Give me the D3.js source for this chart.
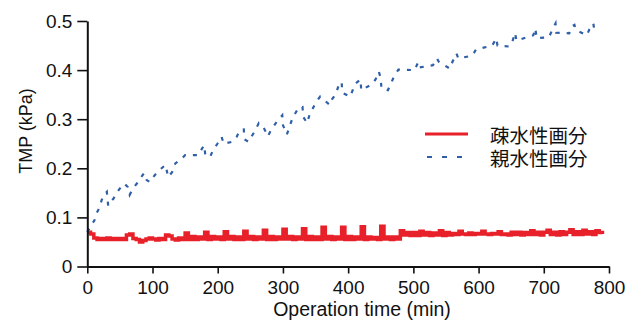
<!DOCTYPE html>
<html>
<head>
<meta charset="utf-8">
<script src="https://cdn.jsdelivr.net/npm/d3@7"></script>
<style>
  html, body { margin: 0; padding: 0; background: #fff; }
  svg { display: block; }
  text { font-family: "Liberation Sans", Arial, Helvetica, sans-serif; fill: #111; }
  .jp { font-family: "Noto Sans CJK JP", "Noto Sans CJK SC", sans-serif; }
</style>
</head>
<body>
<div id="chart"></div>
<script>
// tick values and labels
var xTicks = [0, 100, 200, 300, 400, 500, 600, 700, 800];
var xTickLabels = ["0", "100", "200", "300", "400", "500", "600", "700", "800"];
var yTicks = [0, 0.1, 0.2, 0.3, 0.4, 0.5];
var yTickLabels = ["0", "0.1", "0.2", "0.3", "0.4", "0.5"];

var seriesNames = ["疎水性画分", "親水性画分"];

// hydrophobic fraction, sampled every 5 min from 0 to 790
var redStep = 5;
var redTMP = [
  0.070, 0.066, 0.058, 0.055, 0.057, 0.055, 0.058, 0.055, 0.057, 0.055,
  0.057, 0.055, 0.064, 0.066, 0.057, 0.055, 0.050, 0.053, 0.056, 0.058,
  0.056, 0.054, 0.057, 0.055, 0.064, 0.062, 0.056, 0.054, 0.058, 0.055,
  0.068, 0.055, 0.061, 0.055, 0.060, 0.056, 0.070, 0.055, 0.061, 0.056,
  0.060, 0.055, 0.071, 0.056, 0.061, 0.055, 0.060, 0.055, 0.072, 0.056,
  0.061, 0.055, 0.060, 0.056, 0.074, 0.055, 0.061, 0.055, 0.060, 0.056,
  0.076, 0.056, 0.061, 0.055, 0.060, 0.056, 0.077, 0.055, 0.061, 0.055,
  0.060, 0.055, 0.080, 0.056, 0.061, 0.055, 0.060, 0.056, 0.080, 0.055,
  0.061, 0.055, 0.060, 0.056, 0.081, 0.055, 0.060, 0.056, 0.059, 0.055,
  0.082, 0.056, 0.060, 0.055, 0.060, 0.056, 0.073, 0.064, 0.069, 0.063,
  0.069, 0.063, 0.072, 0.064, 0.069, 0.063, 0.068, 0.064, 0.073, 0.063,
  0.069, 0.064, 0.067, 0.065, 0.072, 0.066, 0.065, 0.068, 0.065, 0.067,
  0.066, 0.072, 0.066, 0.065, 0.067, 0.066, 0.071, 0.065, 0.066, 0.064,
  0.070, 0.065, 0.070, 0.064, 0.069, 0.065, 0.073, 0.065, 0.070, 0.064,
  0.070, 0.074, 0.065, 0.070, 0.064, 0.071, 0.065, 0.070, 0.075, 0.065,
  0.071, 0.065, 0.074, 0.066, 0.071, 0.065, 0.073, 0.069, 0.066
];

// hydrophilic fraction
var blueTime = [
  0, 6, 11, 14, 18, 22, 25, 30, 32, 35, 40, 45, 50, 57, 62, 65, 70, 76, 81, 87,
  91, 96, 101, 106, 113, 120, 124, 130, 135, 145, 150, 170, 179, 181, 188, 193, 199, 206, 209, 222,
  229, 234, 240, 241, 247, 252, 257, 263, 270, 277, 281, 289, 299, 300, 306, 310, 314, 319, 324, 330,
  331, 337, 341, 345, 350, 357, 372, 375, 381, 385, 390, 391, 403, 407, 410, 419, 420, 436, 442, 447,
  450, 451, 461, 466, 470, 477, 502, 507, 508, 530, 536, 539, 556, 560, 566, 569, 589, 593, 596, 621,
  627, 629, 647, 652, 656, 658, 684, 687, 689, 708, 713, 718, 719, 739, 744, 747, 749, 766, 770, 776,
  778
];
var blueTMP = [
  0.070, 0.084, 0.094, 0.108, 0.118, 0.135, 0.145, 0.152, 0.124, 0.131, 0.138, 0.150, 0.159, 0.169, 0.162, 0.146, 0.159, 0.169, 0.179, 0.190,
  0.176, 0.172, 0.182, 0.190, 0.199, 0.207, 0.182, 0.192, 0.210, 0.220, 0.227, 0.227, 0.247, 0.227, 0.223, 0.237, 0.249, 0.264, 0.250, 0.254,
  0.264, 0.278, 0.279, 0.259, 0.254, 0.265, 0.276, 0.292, 0.284, 0.265, 0.276, 0.292, 0.308, 0.288, 0.269, 0.284, 0.300, 0.312, 0.324, 0.325,
  0.305, 0.292, 0.310, 0.320, 0.333, 0.346, 0.329, 0.340, 0.351, 0.367, 0.376, 0.354, 0.346, 0.359, 0.371, 0.381, 0.359, 0.371, 0.381, 0.397,
  0.383, 0.363, 0.359, 0.374, 0.386, 0.401, 0.400, 0.415, 0.405, 0.410, 0.424, 0.417, 0.403, 0.417, 0.434, 0.424, 0.429, 0.435, 0.442, 0.450,
  0.465, 0.450, 0.448, 0.459, 0.476, 0.460, 0.471, 0.485, 0.465, 0.467, 0.482, 0.495, 0.476, 0.475, 0.490, 0.492, 0.482, 0.471, 0.483, 0.495,
  0.476
];

var redColor = "#e8202a";
var blueColor = "#2f5fa8";

var width = 644, height = 323;
var margin = {top: 21, right: 35, bottom: 56.5, left: 87.3};

var svg = d3.select("#chart").append("svg")
  .attr("width", width)
  .attr("height", height);

var x = d3.scaleLinear().domain([0, 800]).range([margin.left, width - margin.right]);
var y = d3.scaleLinear().domain([0, 0.5]).range([height - margin.bottom, margin.top]);

// series
var redData = redTMP.map(function(v, i) { return {t: i * redStep, v: v}; });
var blueData = blueTime.map(function(t, i) { return {t: t, v: blueTMP[i]}; });

var redLine = d3.line()
  .x(function(d) { return x(d.t); })
  .y(function(d) { return y(d.v); })
  .curve(d3.curveStepAfter);

var blueLine = d3.line()
  .x(function(d) { return x(d.t); })
  .y(function(d) { return y(d.v); });

svg.append("path")
  .datum(redData)
  .attr("d", redLine)
  .attr("fill", "none")
  .attr("stroke", redColor)
  .attr("stroke-width", 3.5);

svg.append("path")
  .datum(blueData)
  .attr("d", blueLine)
  .attr("fill", "none")
  .attr("stroke", blueColor)
  .attr("stroke-width", 2.2)
  .attr("stroke-dasharray", "4,7");

// axes
var xAxis = svg.append("g")
  .attr("transform", "translate(0," + y(0) + ")")
  .call(d3.axisBottom(x).tickValues(xTicks)
    .tickFormat(function(d, i) { return xTickLabels[i]; })
    .tickSize(7).tickPadding(7).tickSizeOuter(0));

var yAxis = svg.append("g")
  .attr("transform", "translate(" + x(0) + ",0)")
  .call(d3.axisLeft(y).tickValues(yTicks)
    .tickFormat(function(d, i) { return yTickLabels[i]; })
    .tickSize(10).tickPadding(5).tickSizeOuter(0));

[xAxis, yAxis].forEach(function(g) {
  g.select(".domain").attr("stroke", "#111").attr("stroke-width", 2);
  g.selectAll(".tick line").attr("stroke", "#111").attr("stroke-width", 1.6);
  g.selectAll(".tick text")
    .style("font-family", "'Liberation Sans', Arial, sans-serif")
    .style("font-size", "19px")
    .attr("fill", "#111");
});

// axis titles
svg.append("text")
  .attr("x", 362)
  .attr("y", 316)
  .attr("text-anchor", "middle")
  .style("font-size", "19.5px")
  .text("Operation time (min)");

svg.append("text")
  .attr("transform", "translate(32,131) rotate(-90)")
  .attr("text-anchor", "middle")
  .style("font-size", "18px")
  .text("TMP (kPa)");

// legend
var legend = svg.append("g");
var legendY = [134, 157];
legend.append("line")
  .attr("x1", 425).attr("x2", 468)
  .attr("y1", legendY[0]).attr("y2", legendY[0])
  .attr("stroke", redColor).attr("stroke-width", 3);
legend.append("line")
  .attr("x1", 427).attr("x2", 470)
  .attr("y1", legendY[1]).attr("y2", legendY[1])
  .attr("stroke", blueColor).attr("stroke-width", 2)
  .attr("stroke-dasharray", "5,10");
legend.selectAll("text.jp")
  .data(seriesNames)
  .enter()
  .append("text")
  .attr("class", "jp")
  .attr("x", 490)
  .attr("y", function(d, i) { return legendY[i]; })
  .attr("dominant-baseline", "central")
  .style("font-size", "19.5px")
  .text(function(d) { return d; });
</script>
</body>
</html>
